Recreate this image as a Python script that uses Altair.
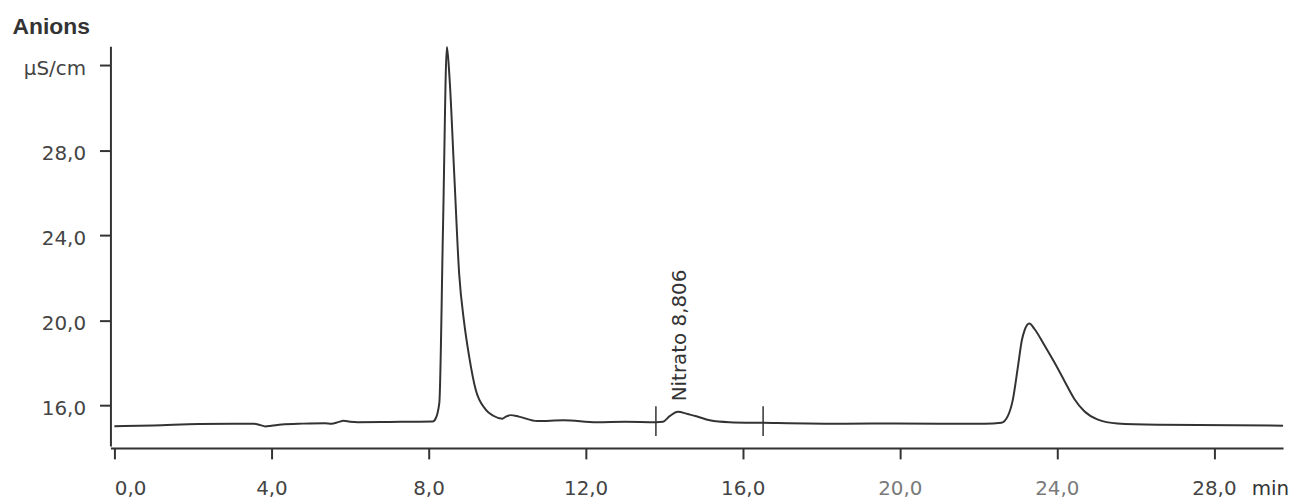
import altair as alt
import pandas as pd

# Chromatogram trace (time in min, conductivity in µS/cm)
time_min = [0.0, 1.0, 2.15, 3.0, 3.55, 3.72, 3.84, 4.0, 4.26, 4.8, 5.36, 5.53, 5.7, 5.83,
            6.0, 6.2, 7.0, 8.105, 8.17, 8.275, 8.37, 8.468, 8.53, 8.655, 8.78, 8.91,
            9.035, 9.20, 9.455, 9.65, 9.88, 9.97, 10.09, 10.3, 10.77, 11.44,
            12.28, 13.0, 13.79, 13.97, 14.14, 14.35, 14.6, 14.82, 15.16, 15.66, 16.52,
            18.6, 19.88, 22.16, 22.59, 22.75, 22.88, 23.01, 23.11, 23.18, 23.30, 23.43,
            23.68, 23.94, 24.19, 24.45, 24.70, 25.03, 25.54, 26.64, 30.0]
signal = [15.03, 15.06, 15.13, 15.14, 15.14, 15.08, 15.02, 15.05, 15.11, 15.15, 15.17, 15.15,
          15.22, 15.28, 15.24, 15.22, 15.23, 15.25, 15.35, 16.13, 24.5, 32.87, 31.55, 26.87,
          22.2, 19.86, 18.30, 16.75, 15.81, 15.52, 15.38, 15.48, 15.55, 15.48, 15.27, 15.31,
          15.22, 15.24, 15.22, 15.24, 15.5, 15.71, 15.6, 15.5, 15.31, 15.22, 15.19,
          15.14, 15.16, 15.14, 15.19, 15.50, 16.28, 17.84, 19.08, 19.55, 19.86, 19.6,
          18.85, 18.02, 17.17, 16.3, 15.73, 15.35, 15.16, 15.1, 15.05]

# Integration markers of the nitrate peak
marker_time = [13.79, 16.52]
marker_low = [14.57, 14.57]
marker_high = [15.97, 15.97]

# Peak annotation
peak_label = ["Nitrato 8,806"]
peak_label_time = [14.56]
peak_label_signal = [16.2]

x_ticks = [0, 4, 8, 12, 16, 20, 24, 28]
y_ticks = [16, 20, 24, 28, 32]

trace_df = pd.DataFrame({"t": time_min, "s": signal})
marker_df = pd.DataFrame({"t": marker_time, "s": marker_low, "s2": marker_high})
label_df = pd.DataFrame({"t": peak_label_time, "s": peak_label_signal, "label": peak_label})

x_scale = alt.Scale(domain=[-0.1, 29.76], nice=False, zero=False)
y_scale = alt.Scale(domain=[14.1, 32.9], nice=False, zero=False)

x_axis = alt.Axis(
    values=x_ticks,
    labelExpr="replace(format(datum.value, '.1f'), '.', ',')",
    grid=False,
    tickSize=11, tickWidth=2, tickColor="#333333",
    domainColor="#333333", domainWidth=2,
    labelFont="DejaVu Sans", labelFontSize=20,
    labelColor={"condition": {"test": "datum.value >= 20 && datum.value <= 24", "value": "#7a7a7a"},
                "value": "#444444"},
    labelPadding=20, labelFlush=6, offset=2,
    title="min", titleX=1147, titleY=47, titleAlign="left", titleBaseline="alphabetic",
    titleFont="DejaVu Sans", titleFontSize=20, titleFontWeight="normal", titleColor="#333333",
)

y_axis = alt.Axis(
    values=y_ticks,
    labelExpr="datum.value == 32 ? 'µS/cm' : replace(format(datum.value, '.1f'), '.', ',')",
    grid=False,
    tickSize=11, tickWidth=2, tickColor="#333333",
    domainColor="#333333", domainWidth=2,
    labelFont="DejaVu Sans", labelFontSize=20, labelColor="#444444",
    labelPadding=14, labelBaseline="alphabetic", labelOffset=9,
    title="Anions", titleAngle=0, titleX=-99, titleY=-13, titleAlign="left",
    titleBaseline="alphabetic", titleFont="Liberation Sans", titleFontSize=23,
    titleFontWeight="bold", titleColor="#333333",
)

trace = alt.Chart(trace_df).mark_line(
    color="#333333", strokeWidth=2, interpolate="monotone", clip=True
).encode(
    x=alt.X("t:Q", scale=x_scale, axis=x_axis),
    y=alt.Y("s:Q", scale=y_scale, axis=y_axis),
)

markers = alt.Chart(marker_df).mark_rule(color="#333333", strokeWidth=1.5).encode(
    x=alt.X("t:Q", scale=x_scale),
    y=alt.Y("s:Q", scale=y_scale),
    y2="s2:Q",
)

label = alt.Chart(label_df).mark_text(
    angle=270, align="left", baseline="alphabetic",
    font="DejaVu Sans", fontSize=20, color="#333333",
).encode(
    x=alt.X("t:Q", scale=x_scale),
    y=alt.Y("s:Q", scale=y_scale),
    text="label:N",
)

chart = alt.layer(trace, markers, label).properties(
    width=1179, height=402,
    autosize=alt.AutoSizeParams(type="none"),
    padding={"left": 103, "top": 37, "right": 8, "bottom": 56},
    background="white",
).configure_view(stroke=None)

chart.save("out.html", embed_options={"renderer": "svg", "actions": False})
